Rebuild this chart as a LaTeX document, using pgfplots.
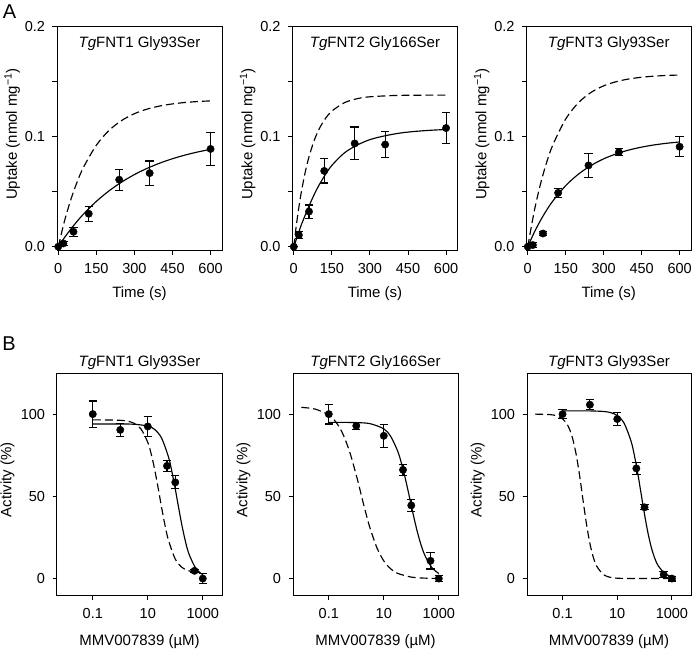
\documentclass[border=0pt]{standalone}
\usepackage{fontspec}
\setmainfont{Liberation Sans}
\usepackage{pgfplots}
\pgfplotsset{compat=1.18}

\pgfplotstableread{
x y e
0 0 0
20 0.003 0.002
60 0.0136 0.004
120 0.030 0.007
240 0.061 0.0095
360 0.067 0.011
600 0.089 0.015
}\dataAone
\pgfplotstableread{
x y e
0 0 0
20 0.0106 0.003
60 0.032 0.006
120 0.069 0.011
240 0.094 0.015
360 0.093 0.012
600 0.108 0.014
}\dataAtwo
\pgfplotstableread{
x y e
0 0 0
20 0.0015 0.002
60 0.012 0.002
120 0.049 0.004
240 0.074 0.011
360 0.086 0.003
600 0.091 0.009
}\dataAthree
\pgfplotstableread{
x y e
0.1 100 8
1 90.4 4
10 92.5 6
50 68.5 3.5
100 58.5 4
500 4.7 1
1000 0 3
}\dataBone
\pgfplotstableread{
x y e
0.1 100 6
1 92.9 2
10 86.8 7
50 66.1 3.3
100 44.5 3.5
500 10.8 5
1000 0 2
}\dataBtwo
\pgfplotstableread{
x y e
0.1 100 2.7
1 105.7 3
10 97 4
50 67 3.5
100 43.3 1.5
500 2.4 2
1000 0 1.5
}\dataBthree

\tikzset{ttlA/.style={font=\fontsize{15}{17}\selectfont, anchor=center}}
\pgfplotsset{
  base/.style={
    scale only axis, width=165pt, clip=false,
    axis line style={line width=1pt},
    every tick/.style={line width=1pt, black},
    tick align=outside, major tick length=4.5pt,
    xtick pos=bottom, ytick pos=left,
    /pgf/number format/assume math mode=true,
    tick label style={font=\fontsize{14.5}{16}\selectfont},
    xticklabel style={yshift=-5pt},
    yticklabel style={xshift=-4pt},
    label style={font=\fontsize{15}{17}\selectfont},
    minor tick num=0,
  },
  Astyle/.style={base, height=223pt,
    xmin=-5, xmax=645, ymin=-0.003, ymax=0.2,
    xtick={0,150,300,450,600},
    ytick={0,0.05,0.1,0.15,0.2}, yticklabels={0.0,,0.1,,0.2},
    xlabel={Time (s)}, ylabel={Uptake (nmol mg\textsuperscript{−1})},
    xlabel style={at={(axis description cs:0.5,-0.195)}, anchor=center},
    ylabel style={at={(axis description cs:-0.272,0.52)}, anchor=center},
  },
  Bstyle/.style={base, height=222pt,
    xmin=0.005, xmax=5000, ymin=-10, ymax=125,
    xtick={0.1,10,1000}, xticklabels={0.1,10,1000},
    ytick={0,50,100},
    xlabel={MMV007839 (µM)}, ylabel={Activity (\%)},
    xlabel style={at={(axis description cs:0.5,-0.212)}, anchor=center},
    ylabel style={at={(axis description cs:-0.30,0.52)}, anchor=center},
  },
  pts/.style={only marks, mark=*, mark size=3.7pt, black,
    error bars/.cd, y dir=both, y explicit,
    error bar style={line width=1.1pt, black},
    error mark options={rotate=90, mark size=4.2pt, line width=1.1pt, black}},
  fit/.style={black, line width=1.15pt, smooth, no marks},
  dfit/.style={black, line width=1.15pt, smooth, no marks, dash pattern=on 8pt off 4pt},
}

\begin{document}
\begin{tikzpicture}
\useasboundingbox (0pt,0pt) rectangle (693pt,649pt);

\node[font=\fontsize{20}{22}\selectfont] at (9.5pt,637pt) {A};
\node[font=\fontsize{20}{22}\selectfont] at (9pt,305pt) {B};

% ---------- A1
\begin{axis}[Astyle, at={(57pt,399pt)}, anchor=south west]
\addplot[dfit] coordinates {(0,0)(25,0.02374)(50,0.04327)(75,0.05935)(100,0.07257)(150,0.09241)(200,0.10585)(250,0.11493)(300,0.12110)(350,0.12526)(400,0.12808)(450,0.12999)(500,0.13129)(550,0.13216)(600,0.13275)};
\addplot[fit] coordinates {(0,0)(25,0.00846)(50,0.01621)(75,0.02332)(100,0.02983)(150,0.04125)(200,0.05084)(250,0.05889)(300,0.06566)(350,0.07133)(400,0.07609)(450,0.08009)(500,0.08345)(550,0.08626)(600,0.08863)};
\addplot[pts] table[x=x,y=y,y error=e] {\dataAone};
\node[ttlA] at (axis description cs:0.5,1) [yshift=-17pt] {\textit{Tg}FNT1 Gly93Ser};
\end{axis}

% ---------- A2
\begin{axis}[Astyle, at={(292.5pt,399pt)}, anchor=south west]
\addplot[dfit] coordinates {(0,0)(10,0.01922)(20,0.03577)(30,0.05001)(45,0.06773)(60,0.08189)(80,0.09643)(100,0.10721)(125,0.11683)(150,0.12345)(200,0.13113)(250,0.13476)(300,0.13647)(400,0.13766)(500,0.13792)(600,0.13798)};
\addplot[fit] coordinates {(0,0)(15,0.010)(30,0.020)(60,0.037)(90,0.052)(120,0.064)(150,0.074)(200,0.0855)(250,0.0925)(300,0.0975)(360,0.101)(420,0.1035)(480,0.105)(540,0.106)(600,0.1067)};
\addplot[pts] table[x=x,y=y,y error=e] {\dataAtwo};
\node[ttlA] at (axis description cs:0.5,1) [yshift=-17pt] {\textit{Tg}FNT2 Gly166Ser};
\end{axis}

% ---------- A3
\begin{axis}[Astyle, width=164.5pt, at={(526.5pt,399pt)}, anchor=south west]
\addplot[dfit] coordinates {(0,0)(25,0.03164)(50,0.0569)(75,0.07706)(100,0.09316)(150,0.1163)(200,0.13105)(250,0.14045)(300,0.14645)(350,0.15026)(400,0.15271)(450,0.15427)(500,0.15526)(550,0.15589)(600,0.15629)};
\addplot[fit] coordinates {(0,0)(25,0.01272)(50,0.0238)(75,0.03346)(100,0.04189)(150,0.05562)(200,0.06604)(250,0.07397)(300,0.07999)(350,0.08456)(400,0.08803)(450,0.09066)(500,0.09267)(550,0.09419)(600,0.09535)};
\addplot[pts] table[x=x,y=y,y error=e] {\dataAthree};
\node[ttlA] at (axis description cs:0.5,1) [yshift=-17pt] {\textit{Tg}FNT3 Gly93Ser};
\end{axis}

% ---------- B1
\begin{axis}[xmode=log, Bstyle, at={(57pt,54pt)}, anchor=south west]
\addplot[dfit] coordinates {(0.1,96.5)(0.3162,96.46)(1,96.23)(1.778,95.75)(3.162,94.45)(5.623,91.04)(10,82.81)(13.34,75.74)(17.78,66.42)(23.71,55.28)(31.62,43.5)(42.17,32.52)(56.23,23.41)(100,11.83)(177.8,6.69)(316.2,4.68)(562.3,3.93)};
\addplot[fit] coordinates {(0.1,94.0)(1,93.98)(3.162,93.83)(10,92.74)(17.78,90.68)(31.62,85.51)(56.23,74.10)(75.0,65.2)(100,54.43)(133.4,42.8)(177.8,31.67)(237.1,22.2)(316.2,14.85)(562.3,6.10)(1000,2.35)};
\addplot[pts] table[x=x,y=y,y error=e] {\dataBone};
\node[ttlA] at (axis description cs:0.5,1) [yshift=10pt] {\textit{Tg}FNT1 Gly93Ser};
\end{axis}

% ---------- B2
\begin{axis}[xmode=log, Bstyle, at={(293pt,54pt)}, anchor=south west]
\addplot[dfit] coordinates {(0.01,104.1)(0.03162,103.07)(0.1,99.5)(0.1778,95.37)(0.3162,88.39)(0.5623,77.55)(1,62.88)(1.334,54.61)(1.778,46.22)(2.371,38.12)(3.162,30.70)(5.623,18.73)(10,10.74)(17.78,5.93)(31.62,3.20)(100,0.90)(316.2,0.25)(1000,0.07)};
\addplot[fit] coordinates {(0.1,94.99)(0.3162,94.97)(1,94.84)(3.162,94.20)(10,91.05)(17.78,86.51)(31.62,77.73)(42.17,71.19)(56.23,63.19)(75.0,54.06)(100,44.39)(133.4,34.99)(177.8,26.53)(237.1,19.45)(316.2,13.88)(562.3,6.67)(1000,3.07)};
\addplot[pts] table[x=x,y=y,y error=e] {\dataBtwo};
\node[ttlA] at (axis description cs:0.5,1) [yshift=10pt] {\textit{Tg}FNT2 Gly166Ser};
\end{axis}

% ---------- B3
\begin{axis}[xmode=log, Bstyle, width=164pt, at={(527pt,54pt)}, anchor=south west]
\addplot[dfit] coordinates {(0.01,99.98)(0.03162,99.74)(0.05623,99.13)(0.1,97.15)(0.1334,94.91)(0.1778,91.06)(0.2371,84.77)(0.3162,75.25)(0.4217,62.43)(0.5623,47.57)(0.7499,33.16)(1,21.32)(1.334,12.90)(1.778,7.49)(3.162,2.36)(5.623,0.72)(10,0.21)(31.62,0.02)(100,0)(1000,0)};
\addplot[fit] coordinates {(0.1,102)(1,101.95)(3.162,101.6)(5.623,100.94)(10,99.14)(17.78,94.53)(31.62,83.86)(42.17,75.11)(56.23,64.06)(75.0,51.52)(100,38.90)(133.4,27.68)(177.8,18.75)(237.1,12.22)(316.2,7.75)(562.3,2.97)(1000,1.11)};
\addplot[pts] table[x=x,y=y,y error=e] {\dataBthree};
\node[ttlA] at (axis description cs:0.5,1) [yshift=10pt] {\textit{Tg}FNT3 Gly93Ser};
\end{axis}
\end{tikzpicture}
\end{document}
